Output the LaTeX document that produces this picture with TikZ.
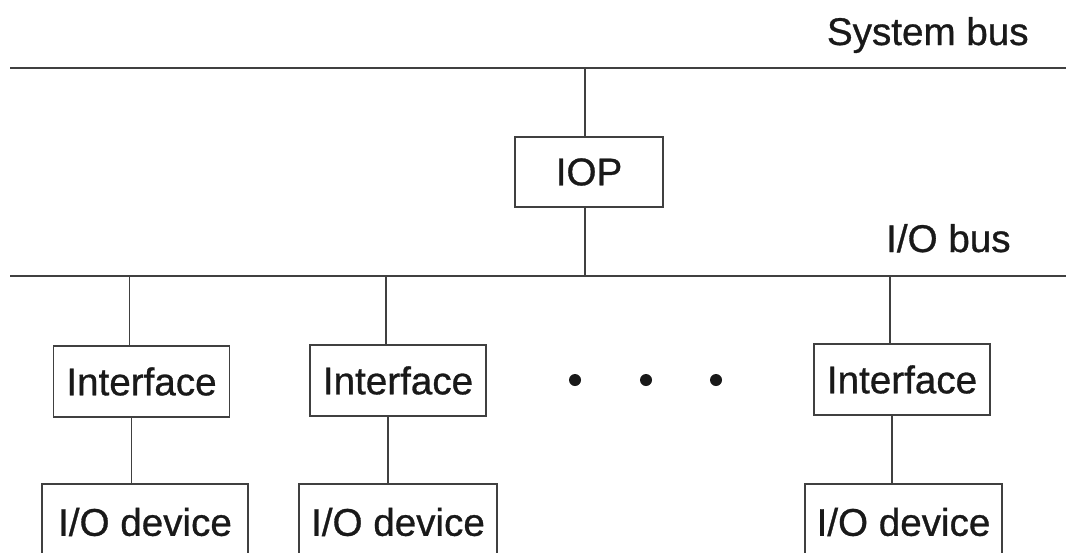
\documentclass[tikz,border=0pt]{standalone}
\usepackage{fontspec}
\setmainfont{Liberation Sans}
\newfontfamily\iopfont{Liberation Sans}[FakeBold=0.8]
\begin{document}
\begin{tikzpicture}[
  x=0.5pt, y=-0.5pt,
  iopbus/.style = {line width=1.3pt, black!75},
  iopwire/.style = {line width=0.7pt, black!75},
  iopbox/.style = {draw=black!75, line width=0.9pt, inner sep=0pt,
    font=\iopfont\fontsize{19.3}{23}\selectfont, text=black!90},
  iopifc/.style = {iopbox, minimum width=88pt, minimum height=35.5pt},
  iopdev/.style = {iopbox, minimum height=38pt},
  ioplbl/.style = {font=\iopfont\fontsize{19.3}{23}\selectfont, text=black!90, inner sep=0pt},
  iopdot/.style = {circle, fill=black!90, inner sep=0pt, minimum size=6pt}
]
  \useasboundingbox (0,0) rectangle (1066,552);
  % buses
  \coordinate (sysL) at (10,68);
  \coordinate (sysR) at (1066,68);
  \coordinate (ioL) at (10,276);
  \coordinate (ioR) at (1066,276);
  \draw[iopbus] (sysL) -- (sysR);
  \draw[iopbus] (ioL) -- (ioR);
  \node[ioplbl, anchor=base east] (syslbl) at (1029,45) {System bus};
  \node[ioplbl, anchor=base east] (iolbl) at (1011,252) {I/O bus};
  % processor
  \node[iopbox, minimum width=74pt, minimum height=35pt] (iop) at (589,172) {IOP};
  \draw[iopwire] ([xshift=-2pt]iop.north) -- ([xshift=-2pt]iop.north |- sysL);
  \draw[iopwire] ([xshift=-2pt]iop.south) -- ([xshift=-2pt]iop.south |- ioL);
  % interfaces
  \node[iopifc] (ifc1) at (141.5,381.5) {Interface};
  \node[iopifc] (ifc2) at (398,380.5) {Interface};
  \node[iopifc] (ifc3) at (902,379.5) {Interface};
  % devices
  \node[iopdev, minimum width=103pt] (dev1) at (145,522) {I/O device};
  \node[iopdev, minimum width=99pt] (dev2) at (398,522) {I/O device};
  \node[iopdev, minimum width=98.5pt] (dev3) at (903.5,522) {I/O device};
  \foreach \n in {1,2,3} {
    \draw[iopwire] ([xshift=-6pt]ifc\n.north) -- ([xshift=-6pt]ifc\n.north |- ioL);
    \draw[iopwire] ([xshift=-5pt]ifc\n.south) -- ([xshift=-5pt]ifc\n.south |- dev\n.north);
  }
  % dots
  \node[iopdot] (dotA) at (575,380) {};
  \node[iopdot] (dotB) at (646,380) {};
  \node[iopdot] (dotC) at (716,380) {};
\end{tikzpicture}
\end{document}
